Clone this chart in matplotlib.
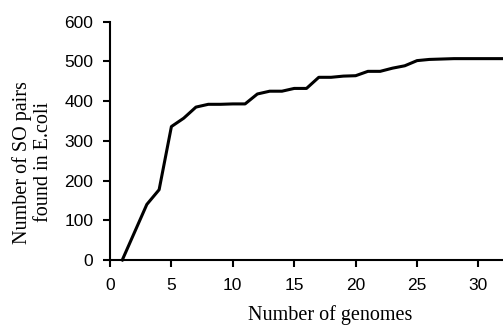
import matplotlib
matplotlib.use("Agg")
import matplotlib.pyplot as plt

# values (number of SO pairs vs genomes)
genomes = list(range(1, 33))
so_pairs = [0, 70, 140, 177, 336, 357, 385, 392, 392, 393, 393, 418, 425, 425,
            432, 432, 460, 460, 463, 464, 475, 475, 483, 489, 502, 505, 506,
            507, 507, 507, 507, 507]
xticks = [0, 5, 10, 15, 20, 25, 30]
yticks = [0, 100, 200, 300, 400, 500, 600]

fig = plt.figure(figsize=(5.03, 3.26), dpi=100)
ax = fig.add_axes([110 / 503, 66 / 326, 393 / 503, 238.3 / 326])

ax.plot(genomes, so_pairs, color="black", lw=2.2, solid_joinstyle="round",
        clip_on=False)

ax.set_xlim(0, 32.0)
ax.set_ylim(0, 600)
ax.set_xticks(xticks)
ax.set_yticks(yticks)
for s in ("top", "right"):
    ax.spines[s].set_visible(False)
for s in ("left", "bottom"):
    ax.spines[s].set_linewidth(1.5)
ax.tick_params(direction="out", length=5, width=1.5, labelsize=12.5)
ax.tick_params(axis="y", pad=7)
ax.tick_params(axis="x", pad=8)
for lab in ax.get_xticklabels() + ax.get_yticklabels():
    lab.set_family("Liberation Sans")

ax.set_xlabel("Number of genomes", family="Liberation Serif", fontsize=14.5)
ax.set_ylabel("Number of SO pairs\nfound in E.coli", family="Liberation Serif",
              fontsize=14.5, labelpad=8, linespacing=1.15)
# the original axes ran past the crop, so the labels sit off-centre
ax.xaxis.set_label_coords(0.56, -0.188, transform=ax.transAxes)
ax.yaxis.label.set_y(0.41)

fig.savefig("out.png", dpi=100)
